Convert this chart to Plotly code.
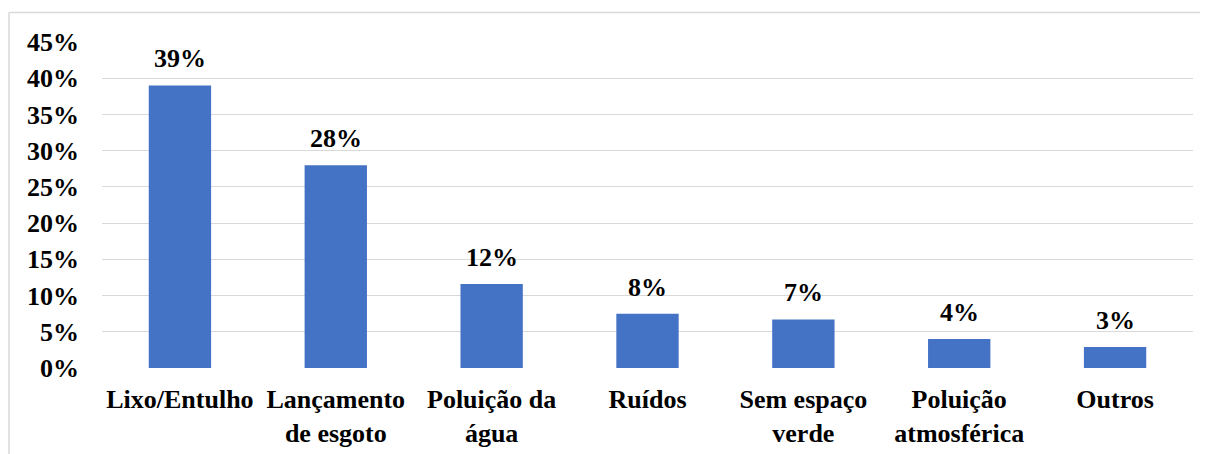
import plotly.graph_objects as go

categories = ["Lixo/Entulho", "Lançamento<br>de esgoto", "Poluição da<br>água", "Ruídos",
              "Sem espaço<br>verde", "Poluição<br>atmosférica", "Outros"]
values = [39.0, 28.0, 11.6, 7.5, 6.7, 4.0, 2.9]
value_labels = ["39%", "28%", "12%", "8%", "7%", "4%", "3%"]
tick_vals = [0, 5, 10, 15, 20, 25, 30, 35, 40, 45]
tick_text = ["0%", "5%", "10%", "15%", "20%", "25%", "30%", "35%", "40%", "45%"]

FONT = "Liberation Serif, Times New Roman, serif"
FS = 26
W, H = 1200, 446
L, R, T, B = 94, 15, 34, 86

fig = go.Figure()
fig.add_trace(go.Bar(x=categories, y=values, marker=dict(color="#4472C4", line=dict(width=0)),
                     hoverinfo="skip"))

annotations = []
for c, v, t in zip(categories, values, value_labels):
    annotations.append(dict(x=c, y=v, xref="x", yref="y", text="<b>%s</b>" % t, showarrow=False,
                            yanchor="bottom", yshift=10,
                            font=dict(family=FONT, size=FS, color="black")))

pw = W - L - R
ph = H - T - B
shapes = [
    dict(type="line", xref="paper", yref="paper", x0=(1 - L) / pw, x1=(1215 - L) / pw,
         y0=(H - B - 4.5) / ph, y1=(H - B - 4.5) / ph, line=dict(color="#d9d9d9", width=1.5)),
    dict(type="line", xref="paper", yref="paper", x0=(1 - L) / pw, x1=(1 - L) / pw,
         y0=(H - B - 4.5) / ph, y1=(H - B - 470) / ph, line=dict(color="#d9d9d9", width=1.5)),
]

fig.update_layout(
    width=W, height=H,
    margin=dict(l=L, r=R, t=T, b=B, pad=0, autoexpand=False),
    paper_bgcolor="white", plot_bgcolor="white",
    bargap=0.6,
    showlegend=False,
    annotations=annotations,
    shapes=shapes,
    font=dict(family=FONT, size=FS, color="black"),
    xaxis=dict(tickfont=dict(family=FONT, size=FS, color="black", weight="bold"),
               showgrid=False, zeroline=False, showline=False, ticks="",
               ticklabelstandoff=13, automargin=False),
    yaxis=dict(range=[0, 45], tickvals=tick_vals, ticktext=tick_text,
               tickfont=dict(family=FONT, size=FS, color="black", weight="bold"),
               showgrid=True, gridcolor="#d9d9d9", gridwidth=1.3, zeroline=False,
               showline=False, ticks="", ticklabelstandoff=22, automargin=False),
)

fig.write_html("out.html")
